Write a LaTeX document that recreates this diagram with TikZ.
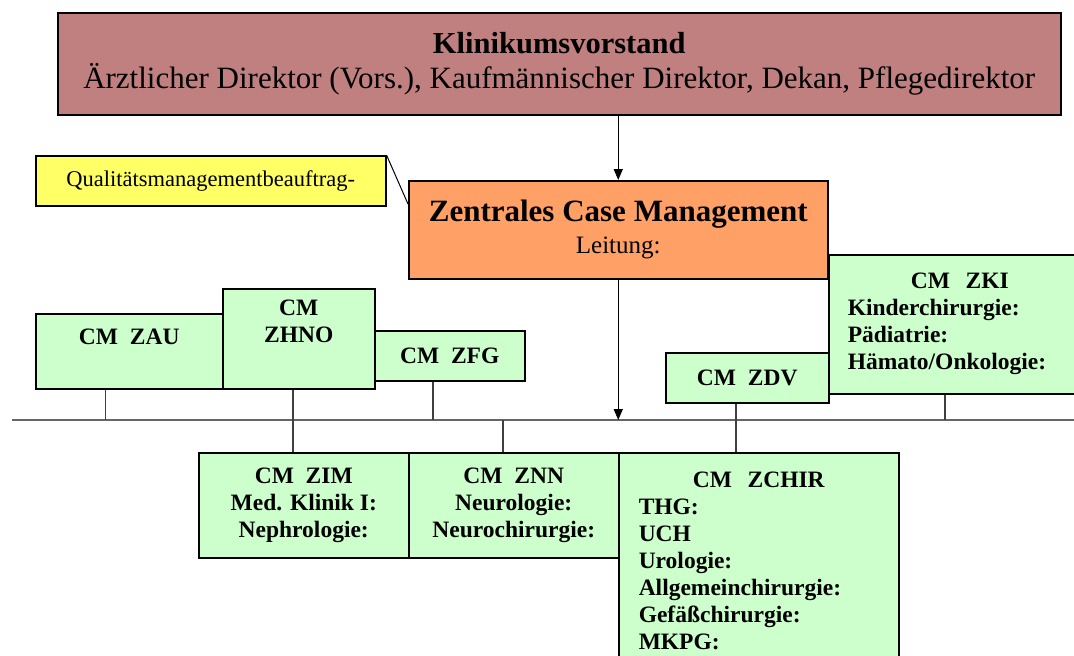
\documentclass[tikz,border=0pt]{standalone}
\usepackage{fontspec}
\setmainfont{Liberation Serif}
\usetikzlibrary{arrows.meta,positioning}
\definecolor{kvrose}{RGB}{192,128,128}
\definecolor{zcmorange}{RGB}{255,160,102}
\definecolor{qmyellow}{RGB}{255,255,102}
\definecolor{cmgreen}{RGB}{204,255,204}

\begin{document}
\begin{tikzpicture}[x=1pt,y=-1pt,
    box/.style={draw=black,line width=1.5pt,anchor=north west,inner sep=0pt},
    cmbox/.style={box,fill=cmgreen,font=\fontsize{23.5}{27}\selectfont\bfseries,align=center},
    stub/.style={draw=black!75,line width=1.5pt},
    busline/.style={draw=black!60,line width=2.5pt},
    arr/.style={-{Triangle[width=9pt,length=11pt]},line width=1.5pt}]
        \clip (0,0) rectangle (1074,656);
        % Top
        \node[box,fill=kvrose,minimum width=1003pt,minimum height=102pt,align=center,
            font=\fontsize{31}{35}\selectfont] (kv) at (57,12)
            {\textbf{\fontsize{30.5}{35}\selectfont Klinikumsvorstand}\\
             Ärztlicher Direktor (Vors.), Kaufmännischer Direktor, Dekan, Pflegedirektor};
        \node[box,fill=zcmorange,minimum width=419pt,minimum height=98pt,align=center,
            font=\fontsize{25}{32}\selectfont] (zcm) at (408,180)
            {\textbf{\fontsize{31}{32}\selectfont Zentrales Case Management}\\ Leitung:};
        \node[box,fill=qmyellow,minimum width=350pt,minimum height=50pt,
            font=\fontsize{22.5}{27}\selectfont] (qm) at (35,155)
            {Qualitätsmanagementbeauftrag-};
        % Upper row
        \node[cmbox,minimum width=187pt,minimum height=75pt,text depth=30pt] (zau) at (35,313) {CM~~ZAU};
        \node[cmbox,minimum width=152pt,minimum height=100pt,text depth=36pt] (zhno) at (222,288) {CM\\ ZHNO};
        \node[cmbox,minimum width=150pt,minimum height=50pt] (zfg) at (374,330) {CM~~ZFG};
        \node[cmbox,minimum width=163pt,minimum height=50pt] (zdv) at (665,352) {CM~~ZDV};
        \node[cmbox,align=left,inner xsep=19pt,text width=224pt,minimum height=139pt] (zki) at (828,254)
            {\makebox[\linewidth]{CM~~ZKI}\\ Kinderchirurgie:\\ Pädiatrie:\\ Hämato/Onkologie:};
        % Lower row
        \node[cmbox,minimum width=210pt,minimum height=105pt] (zim) at (198,452)
            {CM~~ZIM\\ Med. Klinik I:\\ Nephrologie:};
        \node[cmbox,minimum width=210pt,minimum height=105pt] (znn) at (408,452)
            {CM~~ZNN\\ Neurologie:\\ Neurochirurgie:};
        \node[cmbox,align=left,inner xsep=20pt,text width=240pt,minimum height=216pt] (zchir) at (618,452)
            {\makebox[\linewidth]{CM~~ZCHIR}\\ THG:\\ UCH\\ Urologie:\\ Allgemeinchirurgie:\\ Gefäßchirurgie:\\ MKPG:};
        % Lines
        \coordinate (busL) at (12,420);
        \coordinate (busR) at (1074,420);
        \draw[busline] (busL) -- (busR);
        \draw[stub] ([xshift=-24pt]zau.south) -- ([xshift=-24pt]zau.south |- busL);
        \draw[stub] ([xshift=-6pt]zhno.south) -- ([xshift=-6pt]zhno.south |- zim.north);
        \draw[stub] ([xshift=-17pt]zfg.south) -- ([xshift=-17pt]zfg.south |- busL);
        \draw[stub] ([xshift=-11pt]znn.north) -- ([xshift=-11pt]znn.north |- busL);
        \draw[stub] ([xshift=-11.5pt]zdv.south) -- ([xshift=-11.5pt]zdv.south |- zchir.north);
        \draw[stub] ([xshift=-15pt]zki.south) -- ([xshift=-15pt]zki.south |- busL);
        \draw[arr] (kv.south -| zcm.north) -- (zcm.north);
        \draw[arr] (zcm.south) -- (zcm.south |- busL);
        \draw[line width=1pt] (qm.north east) -- ([yshift=-24pt]zcm.north west);
\end{tikzpicture}
\end{document}
